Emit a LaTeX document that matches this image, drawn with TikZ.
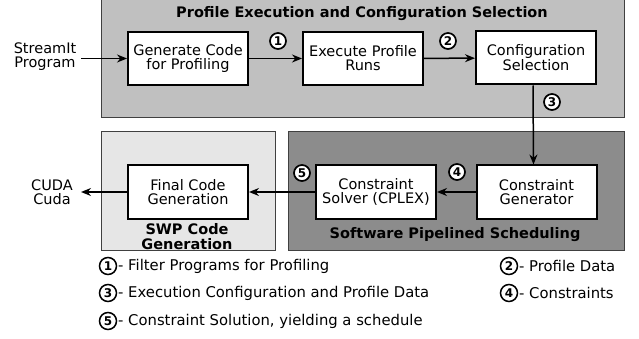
\documentclass[tikz,border=0pt]{standalone}
\usepackage{fontspec}
\setmainfont{DejaVu Sans}
\usetikzlibrary{arrows.meta}
\definecolor{topgray}{HTML}{C0C0C0}
\definecolor{lightgray}{HTML}{E6E6E6}
\definecolor{darkgray}{HTML}{8C8C8C}
\definecolor{edgegray}{HTML}{404040}
\tikzset{
  container/.style={draw=edgegray, line width=1pt},
  procbox/.style={draw=black, fill=white, line width=2pt, minimum width=120pt, minimum height=53pt, align=center, inner sep=0pt, font=\fontsize{14.5}{14}\selectfont},
  plain/.style={align=center, inner sep=0pt, font=\fontsize{14.5}{14}\selectfont},
  titletext/.style={align=center, inner sep=0pt, font=\fontsize{14.5}{15}\selectfont\bfseries},
  numcirc/.style={circle, draw=black, fill=white, line width=1.7pt, minimum size=16pt, inner sep=0pt, font=\fontsize{12}{12}\selectfont\bfseries},
  legcirc/.style={numcirc, line width=1.5pt, minimum size=17pt},
  legtext/.style={anchor=west, inner sep=0pt, font=\fontsize{14.8}{14}\selectfont},
  flow/.style={line width=1.5pt, -{Stealth[length=10pt,width=8pt]}},
}
\begin{document}
\begin{tikzpicture}[x=1pt, y=-1pt]
\useasboundingbox (0,0) rectangle (639,339);
% containers
\draw[container, fill=topgray] (101,-3) rectangle (624,118);
\draw[container, fill=lightgray] (101,132) rectangle (275,250);
\draw[container, fill=darkgray] (288,132) rectangle (624,250);
% titles
\node[titletext] (t1) at (362,14) {Profile Execution and Configuration Selection};
\node[titletext] (t2) at (187,237) {SWP Code\\Generation};
\node[titletext] (t3) at (455,235) {Software Pipelined Scheduling};
% process boxes
\node[procbox] (gen) at (188,58.5) {Generate Code\\for Profiling};
\node[procbox] (exe) at (363,58.5) {Execute Profile\\Runs};
\node[procbox] (cfg) at (536,58) {Configuration\\Selection};
\node[procbox] (fin) at (188,192) {Final Code\\Generation};
\node[procbox] (sol) at (376,192) {Constraint\\Solver (CPLEX)};
\node[procbox] (cgen) at (536.5,192) {Constraint\\Generator};
% outside texts
\node[plain] (in) at (45,57) {StreamIt\\Program};
\node[plain] (out) at (52,192) {CUDA\\Cuda};
% connectors
\draw[flow] (in.east |- gen.west) ++(5pt,0) coordinate (inR) -- (gen.west);
\draw[flow] (gen) -- (exe);
\draw[flow] (exe) -- (cfg);
\draw[flow] ([xshift=-3pt]cfg.south) -- ([xshift=-3pt]cgen.north);
\draw[flow] (cgen) -- (sol);
\draw[flow] (sol) -- (fin);
\coordinate (outE) at (81,192);
\draw[flow] (fin.west) -- (outE);
% numbered circles on connectors
\node[numcirc] (c1) at (278,41) {1};
\node[numcirc] (c2) at (448,41) {2};
\node[numcirc] (c3) at (552,102) {3};
\node[numcirc] (c4) at (457,172) {4};
\node[numcirc] (c5) at (302,173) {5};
% legend
\node[legcirc] (l1) at (108,266) {1};
\node[legtext] (lt1) at (118,266) {- Filter Programs for Profiling};
\node[legcirc] (l3) at (108,293) {3};
\node[legtext] (lt3) at (118,293) {- Execution Configuration and Profile Data};
\node[legcirc] (l5) at (108,321) {5};
\node[legtext] (lt5) at (118,321) {- Constraint Solution, yielding a schedule};
\node[legcirc] (l2) at (509,266) {2};
\node[legtext] (lt2) at (519,266) {- Profile Data};
\node[legcirc] (l4) at (509,293) {4};
\node[legtext] (lt4) at (519,293) {- Constraints};
\end{tikzpicture}
\end{document}
